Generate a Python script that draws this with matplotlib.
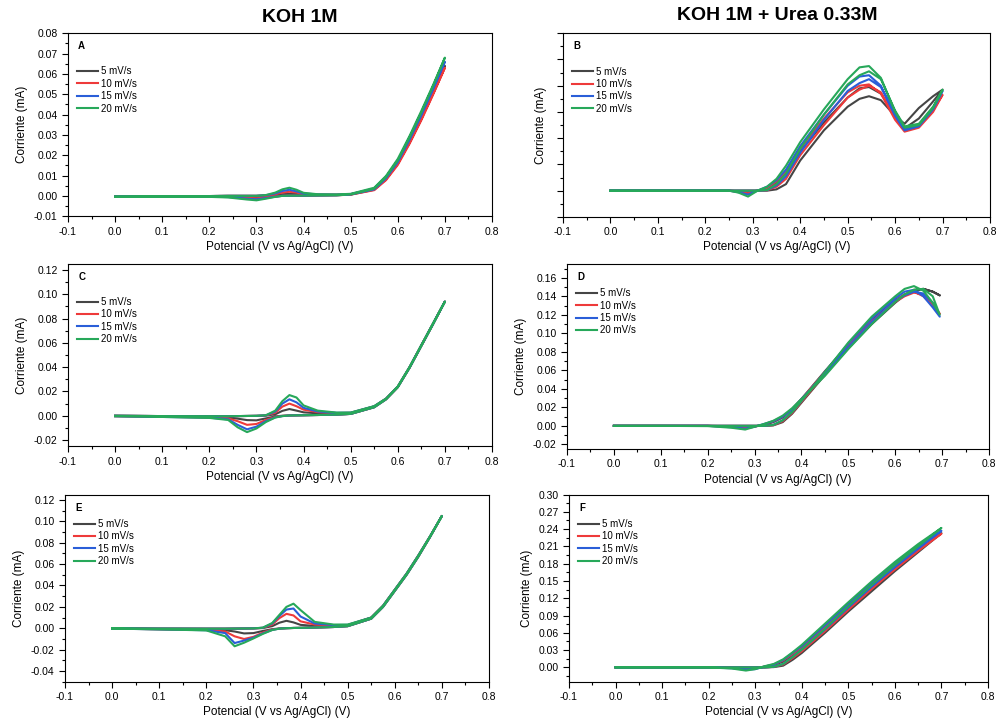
import matplotlib
matplotlib.use("Agg")
import matplotlib.pyplot as plt
from matplotlib.ticker import MultipleLocator, FormatStrFormatter
import numpy as np

plt.rcParams['font.family'] = ['Liberation Sans', 'DejaVu Sans']

# Scan-rate labels and colours
rates = ['5 mV/s', '10 mV/s', '15 mV/s', '20 mV/s']
colors = ['#454545', '#ee3a3a', '#2a5ed8', '#27a85a']

# ---------------- KOH 1M (A, C, E) ----------------
# potentials of the anodic (fwd) and cathodic (rev) sweeps, both listed in ascending potential
E_ace = [0.00, 0.10, 0.20, 0.24, 0.26, 0.28, 0.30, 0.32, 0.34, 0.355, 0.37, 0.385,
         0.40, 0.43, 0.47, 0.50, 0.55, 0.575, 0.60, 0.625, 0.65, 0.675, 0.70]

a5_fwd = [-0.0003, -0.0002, -0.0001, 0.0, 0.0, 0.0, 0.0, 0.0001, 0.0004, 0.0008, 0.0010, 0.0009,
          0.0006, 0.0005, 0.0005, 0.0008, 0.0035, 0.0088, 0.0168, 0.0275, 0.0392, 0.0515, 0.0640]
a5_rev = [-0.0004, -0.0003, -0.0002, -0.0003, -0.0004, -0.0006, -0.0008, -0.0006, -0.0002, 0.0, 0.0001, 0.0001,
          0.0001, 0.0002, 0.0003, 0.0006, 0.0030, 0.0082, 0.0160, 0.0268, 0.0385, 0.0510, 0.0640]
a10_fwd = [-0.0003, -0.0002, -0.0001, 0.0, 0.0, 0.0, 0.0, 0.0002, 0.0008, 0.0016, 0.0020, 0.0016,
           0.0009, 0.0006, 0.0006, 0.0008, 0.0032, 0.0082, 0.0158, 0.0262, 0.0378, 0.0502, 0.0630]
a10_rev = [-0.0004, -0.0003, -0.0003, -0.0004, -0.0007, -0.0010, -0.0012, -0.0008, -0.0003, 0.0, 0.0001, 0.0001,
           0.0001, 0.0002, 0.0003, 0.0006, 0.0028, 0.0077, 0.0152, 0.0256, 0.0372, 0.0498, 0.0630]
a15_fwd = [-0.0003, -0.0002, -0.0001, 0.0, 0.0, 0.0, 0.0, 0.0003, 0.0012, 0.0024, 0.0030, 0.0022,
           0.0012, 0.0007, 0.0006, 0.0009, 0.0036, 0.0092, 0.0174, 0.0284, 0.0404, 0.0530, 0.0660]
a15_rev = [-0.0005, -0.0004, -0.0004, -0.0006, -0.0010, -0.0014, -0.0017, -0.0011, -0.0004, 0.0, 0.0001, 0.0001,
           0.0001, 0.0002, 0.0003, 0.0007, 0.0032, 0.0086, 0.0166, 0.0276, 0.0396, 0.0525, 0.0660]
a20_fwd = [-0.0003, -0.0002, -0.0001, 0.0, 0.0, 0.0, 0.0, 0.0004, 0.0016, 0.0032, 0.0040, 0.0030,
           0.0015, 0.0008, 0.0007, 0.0010, 0.0040, 0.0098, 0.0182, 0.0295, 0.0418, 0.0546, 0.0680]
a20_rev = [-0.0005, -0.0004, -0.0005, -0.0008, -0.0013, -0.0018, -0.0022, -0.0014, -0.0005, 0.0, 0.0001, 0.0001,
           0.0001, 0.0002, 0.0003, 0.0007, 0.0035, 0.0092, 0.0174, 0.0287, 0.0410, 0.0540, 0.0680]

c5_fwd = [0.0, -0.0003, -0.0004, -0.0004, -0.0003, -0.0002, -0.0001, 0.0001, 0.0012, 0.0040, 0.0055, 0.0042,
          0.0028, 0.0020, 0.0018, 0.0022, 0.0077, 0.0140, 0.0240, 0.0400, 0.0580, 0.0760, 0.0940]
c5_rev = [-0.0003, -0.0008, -0.0012, -0.0016, -0.0024, -0.0036, -0.0038, -0.0022, -0.0006, 0.0, 0.0002, 0.0003,
          0.0004, 0.0006, 0.0009, 0.0015, 0.0070, 0.0135, 0.0235, 0.0395, 0.0575, 0.0755, 0.0940]
c10_fwd = [0.0, -0.0003, -0.0004, -0.0004, -0.0003, -0.0002, -0.0001, 0.0002, 0.0025, 0.0075, 0.0100, 0.0078,
           0.0050, 0.0030, 0.0022, 0.0024, 0.0077, 0.0140, 0.0240, 0.0400, 0.0580, 0.0760, 0.0940]
c10_rev = [-0.0004, -0.0009, -0.0014, -0.0022, -0.0045, -0.0075, -0.0068, -0.0035, -0.0010, -0.0002, 0.0002, 0.0003,
           0.0004, 0.0006, 0.0009, 0.0015, 0.0070, 0.0135, 0.0235, 0.0395, 0.0575, 0.0755, 0.0940]
c15_fwd = [0.0, -0.0003, -0.0004, -0.0004, -0.0003, -0.0002, -0.0001, 0.0003, 0.0035, 0.0100, 0.0135, 0.0110,
           0.0065, 0.0035, 0.0024, 0.0025, 0.0078, 0.0140, 0.0240, 0.0400, 0.0580, 0.0760, 0.0940]
c15_rev = [-0.0004, -0.0010, -0.0016, -0.0030, -0.0075, -0.0112, -0.0090, -0.0045, -0.0013, -0.0003, 0.0002, 0.0003,
           0.0004, 0.0006, 0.0009, 0.0015, 0.0070, 0.0135, 0.0235, 0.0395, 0.0575, 0.0755, 0.0940]
c20_fwd = [0.0, -0.0003, -0.0004, -0.0004, -0.0003, -0.0002, -0.0001, 0.0004, 0.0042, 0.0120, 0.0170, 0.0150,
           0.0085, 0.0042, 0.0026, 0.0026, 0.0079, 0.0141, 0.0241, 0.0401, 0.0581, 0.0761, 0.0940]
c20_rev = [-0.0004, -0.0010, -0.0018, -0.0035, -0.0095, -0.0135, -0.0105, -0.0052, -0.0015, -0.0003, 0.0002, 0.0003,
           0.0004, 0.0006, 0.0009, 0.0015, 0.0070, 0.0135, 0.0235, 0.0395, 0.0575, 0.0755, 0.0940]

e5_fwd = [0.0, -0.0003, -0.0004, -0.0004, -0.0003, -0.0002, -0.0001, 0.0002, 0.0020, 0.0052, 0.0070, 0.0055,
          0.0032, 0.0022, 0.0022, 0.0028, 0.0100, 0.0210, 0.0360, 0.0510, 0.0680, 0.0860, 0.1050]
e5_rev = [-0.0003, -0.0008, -0.0013, -0.0018, -0.0030, -0.0048, -0.0045, -0.0025, -0.0008, -0.0002, 0.0001, 0.0003,
          0.0004, 0.0007, 0.0012, 0.0020, 0.0090, 0.0200, 0.0350, 0.0500, 0.0670, 0.0855, 0.1050]
e10_fwd = [0.0, -0.0003, -0.0004, -0.0004, -0.0003, -0.0002, -0.0001, 0.0004, 0.0035, 0.0095, 0.0135, 0.0120,
           0.0065, 0.0035, 0.0027, 0.0030, 0.0100, 0.0210, 0.0360, 0.0510, 0.0680, 0.0860, 0.1050]
e10_rev = [-0.0003, -0.0009, -0.0016, -0.0030, -0.0075, -0.0100, -0.0080, -0.0040, -0.0012, -0.0003, 0.0001, 0.0003,
           0.0004, 0.0007, 0.0012, 0.0020, 0.0090, 0.0200, 0.0350, 0.0500, 0.0670, 0.0855, 0.1050]
e15_fwd = [0.0, -0.0003, -0.0004, -0.0004, -0.0003, -0.0002, -0.0001, 0.0005, 0.0045, 0.0115, 0.0175, 0.0185,
           0.0110, 0.0045, 0.0030, 0.0032, 0.0100, 0.0210, 0.0360, 0.0510, 0.0680, 0.0860, 0.1050]
e15_rev = [-0.0003, -0.0010, -0.0018, -0.0045, -0.0138, -0.0115, -0.0088, -0.0048, -0.0015, -0.0003, 0.0001, 0.0003,
           0.0004, 0.0007, 0.0012, 0.0020, 0.0090, 0.0200, 0.0350, 0.0500, 0.0670, 0.0855, 0.1050]
e20_fwd = [0.0, -0.0003, -0.0004, -0.0004, -0.0003, -0.0002, -0.0001, 0.0006, 0.0050, 0.0125, 0.0200, 0.0230,
           0.0170, 0.0060, 0.0035, 0.0035, 0.0100, 0.0210, 0.0360, 0.0510, 0.0680, 0.0860, 0.1050]
e20_rev = [-0.0003, -0.0010, -0.0020, -0.0075, -0.0168, -0.0135, -0.0095, -0.0052, -0.0016, -0.0003, 0.0001, 0.0003,
           0.0004, 0.0007, 0.0012, 0.0020, 0.0090, 0.0200, 0.0350, 0.0500, 0.0670, 0.0855, 0.1050]

# ---------------- KOH 1M + Urea 0.33M (B, D, F) ----------------
E_b = [0.00, 0.10, 0.20, 0.25, 0.27, 0.29, 0.31, 0.33, 0.35, 0.37, 0.40,
       0.45, 0.50, 0.525, 0.545, 0.57, 0.60, 0.62, 0.65, 0.68, 0.70]
b5_fwd = [0.0, 0.0, 0.0, 0.0, 0.0, 0.0, 0.0, 0.0, 0.0010, 0.0050, 0.0230,
          0.0460, 0.0640, 0.0700, 0.0720, 0.0690, 0.0570, 0.0510, 0.0630, 0.0720, 0.0770]
b5_rev = [0.0, 0.0, 0.0, 0.0, -0.0005, -0.0010, 0.0, 0.0020, 0.0060, 0.0130, 0.0300,
          0.0520, 0.0710, 0.0780, 0.0790, 0.0740, 0.0580, 0.0475, 0.0550, 0.0680, 0.0770]
b10_fwd = [0.0, 0.0, 0.0, 0.0, 0.0, 0.0, 0.0, 0.0003, 0.0030, 0.0090, 0.0270,
           0.0500, 0.0710, 0.0770, 0.0800, 0.0750, 0.0560, 0.0460, 0.0500, 0.0620, 0.0730]
b10_rev = [0.0, 0.0, 0.0, 0.0, -0.0010, -0.0020, 0.0, 0.0020, 0.0070, 0.0150, 0.0320,
           0.0550, 0.0750, 0.0800, 0.0810, 0.0740, 0.0540, 0.0450, 0.0480, 0.0600, 0.0730]
b15_fwd = [0.0, 0.0, 0.0, 0.0, 0.0, 0.0, 0.0, 0.0004, 0.0040, 0.0110, 0.0290,
           0.0540, 0.0760, 0.0820, 0.0850, 0.0790, 0.0580, 0.0470, 0.0500, 0.0630, 0.0760]
b15_rev = [0.0, 0.0, 0.0, 0.0, -0.0012, -0.0030, 0.0, 0.0030, 0.0080, 0.0160, 0.0340,
           0.0580, 0.0800, 0.0870, 0.0880, 0.0800, 0.0570, 0.0460, 0.0490, 0.0620, 0.0760]
b20_fwd = [0.0, 0.0, 0.0, 0.0, 0.0, 0.0, 0.0, 0.0005, 0.0050, 0.0130, 0.0320,
           0.0580, 0.0810, 0.0880, 0.0910, 0.0850, 0.0610, 0.0490, 0.0510, 0.0640, 0.0770]
b20_rev = [0.0, 0.0, 0.0, 0.0, -0.0015, -0.0045, 0.0, 0.0030, 0.0090, 0.0190, 0.0370,
           0.0620, 0.0850, 0.0940, 0.0950, 0.0860, 0.0600, 0.0480, 0.0500, 0.0630, 0.0770]

E_d = [0.00, 0.10, 0.20, 0.25, 0.28, 0.30, 0.32, 0.34, 0.36, 0.38, 0.40,
       0.45, 0.50, 0.55, 0.60, 0.62, 0.64, 0.66, 0.68, 0.695]
d5_fwd = [0.0, 0.0, 0.0, 0.0, 0.0, 0.0, 0.0, 0.0005, 0.0040, 0.0130, 0.0250,
          0.0550, 0.0840, 0.1100, 0.1330, 0.1410, 0.1470, 0.1480, 0.1450, 0.1410]
d5_rev = [0.0, 0.0, 0.0, -0.0005, -0.0010, -0.0005, 0.0010, 0.0040, 0.0090, 0.0180, 0.0290,
          0.0590, 0.0880, 0.1150, 0.1360, 0.1420, 0.1460, 0.1480, 0.1450, 0.1410]
d10_fwd = [0.0, 0.0, 0.0, 0.0, 0.0, 0.0, 0.0, 0.0007, 0.0050, 0.0140, 0.0260,
           0.0560, 0.0860, 0.1120, 0.1350, 0.1420, 0.1450, 0.1400, 0.1300, 0.1210]
d10_rev = [0.0, 0.0, 0.0, -0.0010, -0.0020, -0.0010, 0.0015, 0.0050, 0.0100, 0.0180, 0.0290,
           0.0580, 0.0870, 0.1130, 0.1340, 0.1400, 0.1440, 0.1420, 0.1320, 0.1210]
d15_fwd = [0.0, 0.0, 0.0, 0.0, 0.0, 0.0, 0.0, 0.0010, 0.0060, 0.0150, 0.0270,
           0.0580, 0.0890, 0.1160, 0.1380, 0.1450, 0.1470, 0.1400, 0.1280, 0.1180]
d15_rev = [0.0, 0.0, 0.0, -0.0015, -0.0030, -0.0010, 0.0020, 0.0050, 0.0100, 0.0180, 0.0290,
           0.0560, 0.0850, 0.1120, 0.1350, 0.1410, 0.1450, 0.1430, 0.1330, 0.1180]
d20_fwd = [0.0, 0.0, 0.0, 0.0, 0.0, 0.0, 0.0, 0.0010, 0.0060, 0.0150, 0.0270,
           0.0580, 0.0900, 0.1180, 0.1400, 0.1480, 0.1510, 0.1460, 0.1330, 0.1200]
d20_rev = [0.0, 0.0, -0.0003, -0.0020, -0.0040, -0.0010, 0.0020, 0.0055, 0.0110, 0.0190, 0.0290,
           0.0540, 0.0830, 0.1100, 0.1340, 0.1420, 0.1470, 0.1480, 0.1400, 0.1200]

E_f = [0.00, 0.10, 0.20, 0.25, 0.28, 0.30, 0.32, 0.34, 0.36, 0.38, 0.40,
       0.45, 0.50, 0.55, 0.60, 0.65, 0.70]
f5_fwd = [0.0, 0.0, 0.0, 0.0, 0.0, 0.0, 0.0, 0.0005, 0.0030, 0.0130, 0.0250,
          0.0600, 0.0970, 0.1320, 0.1670, 0.2000, 0.2330]
f5_rev = [0.0, 0.0, 0.0, -0.0010, -0.0020, -0.0010, 0.0010, 0.0040, 0.0100, 0.0200, 0.0320,
          0.0660, 0.1020, 0.1370, 0.1720, 0.2050, 0.2330]
f10_fwd = [0.0, 0.0, 0.0, 0.0, 0.0, 0.0, 0.0, 0.0010, 0.0050, 0.0160, 0.0280,
           0.0630, 0.1000, 0.1360, 0.1700, 0.2020, 0.2320]
f10_rev = [0.0, 0.0, 0.0, -0.0010, -0.0030, -0.0020, 0.0015, 0.0050, 0.0120, 0.0230, 0.0350,
           0.0700, 0.1060, 0.1410, 0.1760, 0.2060, 0.2320]
f15_fwd = [0.0, 0.0, 0.0, 0.0, 0.0, 0.0, 0.0, 0.0010, 0.0060, 0.0180, 0.0310,
           0.0660, 0.1040, 0.1400, 0.1740, 0.2060, 0.2370]
f15_rev = [0.0, 0.0, 0.0, -0.0015, -0.0040, -0.0030, 0.0015, 0.0050, 0.0130, 0.0250, 0.0370,
           0.0730, 0.1100, 0.1460, 0.1800, 0.2100, 0.2370]
f20_fwd = [0.0, 0.0, 0.0, 0.0, 0.0, 0.0, 0.0, 0.0010, 0.0060, 0.0180, 0.0310,
           0.0670, 0.1060, 0.1430, 0.1780, 0.2100, 0.2420]
f20_rev = [0.0, 0.0, 0.0, -0.0020, -0.0055, -0.0030, 0.0020, 0.0060, 0.0140, 0.0260, 0.0390,
           0.0760, 0.1130, 0.1490, 0.1830, 0.2140, 0.2420]


def cv_loop(E, fwd, rev):
    # anodic sweep up, cathodic sweep back down
    E = np.asarray(E)
    x = np.concatenate([E, E[::-1]])
    y = np.concatenate([fwd, np.asarray(rev)[::-1]])
    return x, y


panels = [
    # letter, rect (fig fraction), E, series, ylim, major, minor, show y labels, legend y
    ('A', [0.068, 0.701, 0.424, 0.253], E_ace,
     [(a5_fwd, a5_rev), (a10_fwd, a10_rev), (a15_fwd, a15_rev), (a20_fwd, a20_rev)],
     (-0.01, 0.08), 0.01, 0.005, True, 0.84),
    ('B', [0.563, 0.700, 0.427, 0.254], E_b,
     [(b5_fwd, b5_rev), (b10_fwd, b10_rev), (b15_fwd, b15_rev), (b20_fwd, b20_rev)],
     (-0.02, 0.12), 0.02, 0.01, False, 0.84),
    ('C', [0.068, 0.383, 0.424, 0.252], E_ace,
     [(c5_fwd, c5_rev), (c10_fwd, c10_rev), (c15_fwd, c15_rev), (c20_fwd, c20_rev)],
     (-0.025, 0.125), 0.02, 0.01, True, 0.84),
    ('D', [0.567, 0.379, 0.422, 0.256], E_d,
     [(d5_fwd, d5_rev), (d10_fwd, d10_rev), (d15_fwd, d15_rev), (d20_fwd, d20_rev)],
     (-0.025, 0.175), 0.02, 0.01, True, 0.89),
    ('E', [0.065, 0.057, 0.424, 0.259], E_ace,
     [(e5_fwd, e5_rev), (e10_fwd, e10_rev), (e15_fwd, e15_rev), (e20_fwd, e20_rev)],
     (-0.05, 0.125), 0.02, 0.01, True, 0.89),
    ('F', [0.569, 0.057, 0.419, 0.259], E_f,
     [(f5_fwd, f5_rev), (f10_fwd, f10_rev), (f15_fwd, f15_rev), (f20_fwd, f20_rev)],
     (-0.025, 0.30), 0.03, 0.015, True, 0.89),
]

fig = plt.figure(figsize=(10, 7.23), dpi=100)

for letter, rect, E, series, ylim, major, minor, ylabels, leg_y in panels:
    ax = fig.add_axes(rect)
    for (fwd, rev), lab, col in zip(series, rates, colors):
        x, y = cv_loop(E, fwd, rev)
        ax.plot(x, y, color=col, lw=1.5, label=lab, solid_joinstyle='round')

    ax.set_xlim(-0.1, 0.8)
    ax.set_ylim(*ylim)
    ax.xaxis.set_major_locator(MultipleLocator(0.1))
    ax.xaxis.set_minor_locator(MultipleLocator(0.05))
    ax.xaxis.set_major_formatter(FormatStrFormatter('%.1f'))
    ax.yaxis.set_major_locator(MultipleLocator(major))
    ax.yaxis.set_minor_locator(MultipleLocator(minor))
    ax.yaxis.set_major_formatter(FormatStrFormatter('%.2f'))
    if not ylabels:
        ax.set_yticklabels([])
    ax.tick_params(which='both', direction='out', labelsize=7.5, top=False, right=False)
    ax.tick_params(which='major', length=4, width=0.8)
    ax.tick_params(which='minor', length=2.5, width=0.8)
    for sp in ax.spines.values():
        sp.set_linewidth(0.8)

    ax.set_xlabel('Potencial (V vs Ag/AgCl) (V)', fontsize=8.5, labelpad=3)
    ax.set_ylabel('Corriente (mA)', fontsize=8.5, labelpad=4)
    ax.text(0.024, 0.93, letter, transform=ax.transAxes, fontsize=7, fontweight='bold',
            va='center', ha='left')
    ax.legend(loc='upper left', bbox_to_anchor=(0.012, leg_y), frameon=False, fontsize=7,
              handlelength=2.2, handletextpad=0.3, labelspacing=0.25, borderaxespad=0)

fig.text(0.300, 1 - 18 / 723, 'KOH 1M', fontsize=14, fontweight='bold', ha='center', va='center')
fig.text(0.777, 1 - 16 / 723, 'KOH 1M + Urea 0.33M', fontsize=14, fontweight='bold',
         ha='center', va='center')

fig.savefig('out.png', dpi=100)
